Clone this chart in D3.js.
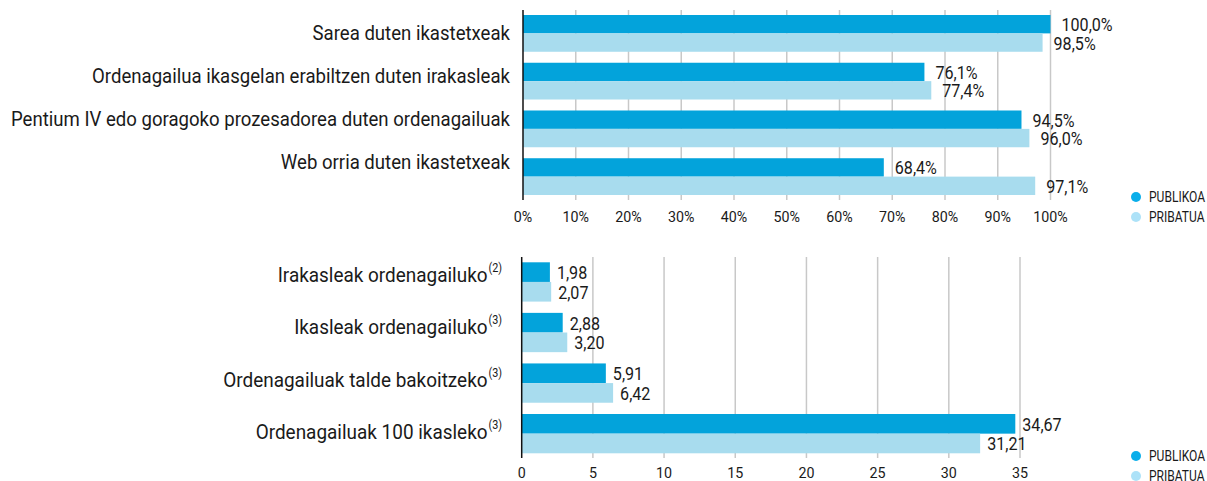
<!DOCTYPE html>
<html>
<head>
<meta charset="utf-8">
<script src="https://cdn.jsdelivr.net/npm/d3@7"></script>
<style>
  html, body { margin: 0; padding: 0; background: #fff; }
  svg text { font-family: Roboto, "Liberation Sans", sans-serif; fill: #1a1a1a; }
</style>
</head>
<body>
<div id="chart"></div>
<script>
// ---- data ----
const topCategories = [
  "Sarea duten ikastetxeak",
  "Ordenagailua ikasgelan erabiltzen duten irakasleak",
  "Pentium IV edo goragoko prozesadorea duten ordenagailuak",
  "Web orria duten ikastetxeak"
];
const topPublic  = [100.0, 76.1, 94.5, 68.4];
const topPrivate = [98.5, 77.4, 96.0, 97.1];
const topTicks   = [0, 10, 20, 30, 40, 50, 60, 70, 80, 90, 100];

const bottomCategories = [
  "Irakasleak ordenagailuko",
  "Ikasleak ordenagailuko",
  "Ordenagailuak talde bakoitzeko",
  "Ordenagailuak 100 ikasleko"
];
const bottomNotes   = ["(2)", "(3)", "(3)", "(3)"];
const bottomPublic  = [1.98, 2.88, 5.91, 34.67];
const bottomPrivate = [2.07, 3.20, 6.42, 32.2];
const bottomPublicLabels  = ["1,98", "2,88", "5,91", "34,67"];
const bottomPrivateLabels = ["2,07", "3,20", "6,42", "31,21"];
const bottomTicks = [0, 5, 10, 15, 20, 25, 30, 35];

const seriesNames = ["PUBLIKOA", "PRIBATUA"];

// ---- styles ----
const C_PUB = "#03a3db", C_PRI = "#a8dcee";
const C_PUB_DOT = "#0aaeea", C_PRI_DOT = "#ade2f8";
const fmtPct = v => d3.format(".1f")(v).replace(".", ",") + "%";

const W = 1207, H = 481;
const svg = d3.select("#chart").append("svg").attr("width", W).attr("height", H);

// squeeze text horizontally (no condensed font installed)
function condense(sel, k) {
  sel.each(function () {
    const w = this.getComputedTextLength();
    if (w > 0) {
      this.setAttribute("textLength", w * k);
      this.setAttribute("lengthAdjust", "spacingAndGlyphs");
    }
  });
}

function panel(o) {
  const g = svg.append("g");
  const x = d3.scaleLinear().domain(o.domain).range(o.xRange);
  const y = d3.scaleBand().domain(o.categories).range(o.yRange).paddingInner(o.pad).paddingOuter(0);
  const ys = d3.scaleBand().domain([0, 1]).range([0, y.bandwidth()]);

  // grid
  g.append("g").selectAll("line").data(o.ticks.filter(t => t > 0)).join("line")
    .attr("x1", d => x(d)).attr("x2", d => x(d))
    .attr("y1", o.gridY[0]).attr("y2", o.gridY[1])
    .attr("stroke", "#c8c8c8").attr("stroke-width", 1.5);

  const rows = o.categories.map((c, i) => ({ c, i }));
  const series = [
    { k: 0, vals: o.pub, labels: o.pubLabels, color: C_PUB },
    { k: 1, vals: o.pri, labels: o.priLabels, color: C_PRI }
  ];

  series.forEach(s => {
    g.append("g").selectAll("rect").data(rows).join("rect")
      .attr("x", x(0))
      .attr("y", d => y(d.c) + ys(s.k))
      .attr("width", d => x(s.vals[d.i]) - x(0))
      .attr("height", ys.bandwidth())
      .attr("fill", s.color);

    g.append("g").selectAll("text").data(rows).join("text")
      .attr("x", d => x(s.vals[d.i]) + o.labelGap)
      .attr("y", d => y(d.c) + ys(s.k) + ys.bandwidth() / 2 + 1)
      .attr("dominant-baseline", "central")
      .attr("font-size", 18.5)
      .text(d => s.labels[d.i])
      .call(condense, 0.87);
  });

  // axis line
  g.append("line")
    .attr("x1", x(0)).attr("x2", x(0))
    .attr("y1", o.gridY[0]).attr("y2", o.gridY[1])
    .attr("stroke", "#111").attr("stroke-width", 1.5);

  // tick labels
  g.append("g").selectAll("text").data(o.ticks).join("text")
    .attr("x", d => x(d)).attr("y", o.tickY)
    .attr("text-anchor", "middle").attr("dominant-baseline", "central")
    .attr("font-size", 15.5)
    .text(o.tickFormat)
    .call(condense, 0.92);

  // category labels
  const ly = d3.scalePoint().domain(o.categories).range(o.labelY);
  const lab = g.append("g").selectAll("text").data(rows).join("text")
    .attr("x", o.labelX).attr("y", d => ly(d.c))
    .attr("text-anchor", "end").attr("dominant-baseline", "central")
    .attr("font-size", 21);
  lab.append("tspan").text(d => d.c);
  if (o.notes) {
    lab.append("tspan").attr("font-size", 12).attr("dx", 1).attr("dy", -7).text(d => o.notes[d.i]);
  }
  lab.call(condense, o.labelSqueeze);

  // legend
  const lg = g.append("g").selectAll("g").data(seriesNames).join("g")
    .attr("transform", (d, i) => `translate(${o.legendX},${o.legendY + i * 20})`);
  lg.append("circle").attr("r", 5).attr("fill", (d, i) => i ? C_PRI_DOT : C_PUB_DOT);
  lg.append("text").attr("x", 13).attr("dominant-baseline", "central")
    .attr("font-size", 14.5).text(d => d)
    .call(condense, 0.83);
}

panel({
  categories: topCategories, pub: topPublic, pri: topPrivate,
  pubLabels: topPublic.map(fmtPct), priLabels: topPrivate.map(fmtPct),
  domain: [0, 100], xRange: [523, 1050.5], yRange: [15, 195], pad: 0.23,
  ticks: topTicks, tickFormat: d => d + "%", tickY: 217,
  gridY: [10, 200], labelGap: 11, labelX: 510, labelY: [33, 162], labelSqueeze: 0.885,
  legendX: 1136, legendY: 197
});

panel({
  categories: bottomCategories, pub: bottomPublic, pri: bottomPrivate,
  pubLabels: bottomPublicLabels, priLabels: bottomPrivateLabels, notes: bottomNotes,
  domain: [0, 35], xRange: [521.7, 1020], yRange: [262.3, 453.3], pad: 0.223,
  ticks: bottomTicks, tickFormat: d => d, tickY: 473,
  gridY: [257, 458], labelGap: 7, labelX: 502, labelY: [275, 432], labelSqueeze: 0.905,
  legendX: 1136, legendY: 456
});
</script>
</body>
</html>
